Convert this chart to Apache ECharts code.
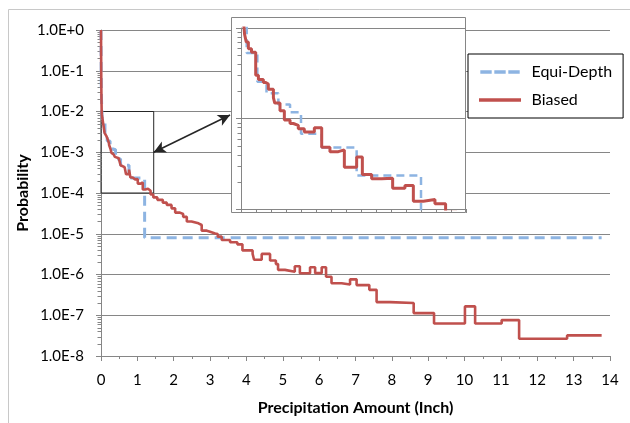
<!DOCTYPE html>
<html>
<head>
<meta charset="utf-8">
<script src="https://cdn.jsdelivr.net/npm/echarts@6/dist/echarts.min.js"></script>
<style>
  html, body { margin: 0; padding: 0; background: #fff; }
  #chart { width: 630px; height: 423px; }
</style>
</head>
<body>
<div id="chart"></div>
<script>
// step points: [inch, probability], level holds until the next point
const biased = [
  [0, 1.0], [0.003, 0.3], [0.006, 0.1], [0.009, 0.04], [0.013, 0.02],
  [0.018, 0.011], [0.024, 0.0085], [0.035, 0.007], [0.049, 0.0059],
  [0.07, 0.0054], [0.098, 0.003], [0.116, 0.0027], [0.149, 0.0025],
  [0.165, 0.0024], [0.182, 0.0021], [0.216, 0.0017], [0.225, 0.00148],
  [0.26, 0.00122], [0.289, 0.00096], [0.327, 0.00088], [0.349, 0.00084],
  [0.382, 0.00077], [0.422, 0.00071], [0.489, 0.00079], [0.538, 0.00048],
  [0.593, 0.00043], [0.649, 0.00045], [0.689, 0.00029], [0.771, 0.000375],
  [0.809, 0.00024], [0.871, 0.000216], [0.938, 0.000219], [1.011, 0.00017],
  [1.093, 0.000182], [1.149, 0.000122], [1.216, 0.000127], [1.293, 0.000114],
  [1.364, 0.000092], [1.44, 0.000078], [1.55, 0.000068], [1.7, 0.000058],
  [1.81, 0.000051], [1.94, 0.000042], [2.04, 0.000033], [2.17, 0.0000305],
  [2.26, 0.000026], [2.36, 0.00002], [2.49, 0.000018], [2.68, 0.0000164],
  [2.77, 0.0000119], [2.91, 0.0000112], [3.0, 0.0000102], [3.14, 0.0000099],
  [3.21, 0.0000085], [3.32, 0.000007], [3.55, 0.0000062], [3.75, 0.0000055],
  [3.89, 0.0000039], [4.17, 0.0000032], [4.21, 0.0000023], [4.42, 0.0000032],
  [4.65, 0.0000022], [4.81, 0.0000018], [4.87, 0.0000013], [5.06, 0.00000117],
  [5.33, 0.0000016], [5.47, 0.00000107], [5.75, 0.0000015], [5.89, 0.00000108],
  [6.07, 0.0000015], [6.19, 0.00000088], [6.34, 0.00000061], [6.62, 0.00000057],
  [6.85, 0.00000076], [7.03, 0.00000055], [7.38, 0.00000042], [7.58, 0.00000021],
  [7.95, 0.0000002], [8.6, 0.000000113], [9.16, 0.000000063], [10.01, 0.000000165],
  [10.29, 0.000000063], [11.02, 0.000000076], [11.5, 0.0000000265],
  [12.82, 0.000000032], [13.77, 0.000000032]
];

const equiDepth = [
  [0, 1.0], [0.004, 0.1], [0.01, 0.03], [0.02, 0.012], [0.038, 0.0053],
  [0.109, 0.00255], [0.17, 0.0019], [0.249, 0.00143], [0.327, 0.00117],
  [0.4, 0.00068], [0.538, 0.000477], [0.771, 0.000234], [1.2, 0.000008],
  [13.77, 0.000008]
];

// zoomed region shown in the inset
const zoomX = [0, 1.45];
const zoomP = [1e-4, 1e-2];
// double arrow from the zoom box to the inset
const arrowFrom = [1.45, 1e-3];
const arrowTo = [3.55, 8.2e-3];

// log minor ticks
const minorSteps = [2, 3, 4, 5, 6, 7, 8, 9];
const mainDecades = [-8, -7, -6, -5, -4, -3, -2, -1];
const insetDecades = [-4, -3];

const minorValues = (decades) =>
  decades.flatMap((d) => minorSteps.map((m) => [0, m * Math.pow(10, d)]));

const GRAY = "#868686";
const RED = "#c0504d";
const BLUE = "#8db4e2";

const sciLabel = (v) => {
  const e = Math.round(Math.log10(v));
  return "1.0E" + (e >= 0 ? "+" : "") + e;
};

const tickRenderer = (len) => (params, api) => {
  const p = api.coord([0, api.value(1)]);
  const y = Math.round(p[1]) + 0.5;
  const x = Math.round(p[0]) + 0.5;
  return {
    type: "line",
    shape: { x1: x - len, y1: y, x2: x, y2: y },
    style: { stroke: GRAY, lineWidth: 1 },
  };
};

const chart = echarts.init(document.getElementById("chart"));

chart.setOption({
  animation: false,
  backgroundColor: "#fff",
  textStyle: { fontFamily: "Lato" },
  graphic: [
    {
      type: "rect",
      shape: { x: 8.5, y: 9.5, width: 700, height: 500 },
      style: { fill: "none", stroke: "#c8c8c8", lineWidth: 1 },
      silent: true,
    },
    {
      type: "rect",
      z: 5,
      shape: { x: 231.5, y: 17.5, width: 234, height: 195 },
      style: { fill: "#fff", stroke: GRAY, lineWidth: 1 },
      silent: true,
    },
  ],
  legend: {
    data: [
      { name: "Equi-Depth", icon: "path://M0,0h13v4h-13z M16,0h13v4h-13z M32,0h13v4h-13z" },
      { name: "Biased", icon: "path://M0,0h48v4h-48z" },
    ],
    orient: "vertical",
    left: 468,
    top: 54,
    padding: [10, 11, 10, 11],
    itemGap: 12,
    itemWidth: 45,
    itemHeight: 3.5,
    backgroundColor: "#fff",
    borderColor: "#000",
    borderWidth: 1,
    z: 10,
    textStyle: { fontFamily: "Lato", fontSize: 16, color: "#000", padding: [0, 0, 0, 4] },
  },
  grid: [
    { left: 101, top: 30, right: 20, bottom: 67 },
    { left: 241, top: 28, width: 225, height: 181 },
  ],
  xAxis: [
    {
      type: "value",
      gridIndex: 0,
      min: 0,
      max: 14,
      interval: 1,
      name: "Precipitation Amount (Inch)",
      nameLocation: "middle",
      nameGap: 44,
      nameMoveOverlap: false,
      nameTextStyle: { fontFamily: "Lato", fontSize: 16, fontWeight: "bold", color: "#000" },
      axisLine: { lineStyle: { color: GRAY } },
      axisTick: { length: 5, lineStyle: { color: GRAY } },
      minorTick: { show: true, splitNumber: 2, length: 3, lineStyle: { color: GRAY } },
      axisLabel: { fontSize: 15, color: "#000", margin: 17 },
      splitLine: { show: false },
    },
    {
      type: "value",
      gridIndex: 1,
      min: 0,
      max: 1.5,
      interval: 0.5,
      z: 6,
      axisLine: { lineStyle: { color: GRAY } },
      axisTick: { length: 4, lineStyle: { color: GRAY } },
      minorTick: { show: true, splitNumber: 5, length: 4, lineStyle: { color: GRAY } },
      axisLabel: { show: false },
      splitLine: { show: false },
    },
  ],
  yAxis: [
    {
      type: "log",
      gridIndex: 0,
      logBase: 10,
      min: 1e-8,
      max: 1,
      name: "Probability",
      nameLocation: "middle",
      nameGap: 70,
      nameMoveOverlap: false,
      nameTextStyle: { fontFamily: "Lato", fontSize: 16, fontWeight: "bold", color: "#000" },
      axisLine: { show: true, lineStyle: { color: GRAY } },
      axisTick: { show: true, length: 5, lineStyle: { color: GRAY } },
      axisLabel: { fontSize: 15, color: "#000", margin: 17, formatter: sciLabel },
      splitLine: { show: true, lineStyle: { color: GRAY, width: 1 } },
    },
    {
      type: "log",
      gridIndex: 1,
      logBase: 10,
      min: 1e-4,
      max: 1e-2,
      z: 6,
      axisLine: { show: true, lineStyle: { color: GRAY } },
      axisTick: { show: true, length: 5, lineStyle: { color: GRAY } },
      axisLabel: { show: false },
      splitLine: { show: true, lineStyle: { color: GRAY, width: 1 } },
    },
  ],
  series: [
    {
      name: "Equi-Depth",
      type: "line",
      step: "end",
      xAxisIndex: 0,
      yAxisIndex: 0,
      data: equiDepth,
      symbol: "none",
      z: 2,
      lineStyle: { color: BLUE, width: 3, type: [10, 6] },
      itemStyle: { color: BLUE },
    },
    {
      name: "Biased",
      type: "line",
      step: "end",
      xAxisIndex: 0,
      yAxisIndex: 0,
      data: biased,
      symbol: "none",
      z: 3,
      lineStyle: { color: RED, width: 2.6 },
      itemStyle: { color: RED },
      markArea: {
        silent: true,
        itemStyle: { color: "rgba(0,0,0,0)", borderColor: "#262626", borderWidth: 1 },
        data: [[{ coord: [zoomX[0], zoomP[1]] }, { coord: [zoomX[1], zoomP[0]] }]],
      },
      markLine: {
        silent: true,
        symbol: ["arrow", "arrow"],
        symbolSize: [9, 12],
        label: { show: false },
        lineStyle: { color: "#262626", width: 1.5, type: "solid" },
        data: [[{ coord: arrowFrom }, { coord: arrowTo }]],
      },
    },
    {
      type: "custom",
      xAxisIndex: 0,
      yAxisIndex: 0,
      silent: true,
      z: 1,
      data: minorValues(mainDecades),
      renderItem: tickRenderer(4),
    },
    {
      name: "Equi-Depth",
      type: "line",
      step: "end",
      xAxisIndex: 1,
      yAxisIndex: 1,
      data: equiDepth,
      symbol: "none",
      z: 7,
      lineStyle: { color: BLUE, width: 2.5, type: [8, 5] },
      itemStyle: { color: BLUE },
    },
    {
      name: "Biased",
      type: "line",
      step: "end",
      xAxisIndex: 1,
      yAxisIndex: 1,
      data: biased,
      symbol: "none",
      z: 8,
      lineStyle: { color: RED, width: 3 },
      itemStyle: { color: RED },
    },
    {
      type: "custom",
      xAxisIndex: 1,
      yAxisIndex: 1,
      silent: true,
      z: 7,
      data: minorValues(insetDecades),
      renderItem: tickRenderer(4),
    },
  ],
});
</script>
</body>
</html>
